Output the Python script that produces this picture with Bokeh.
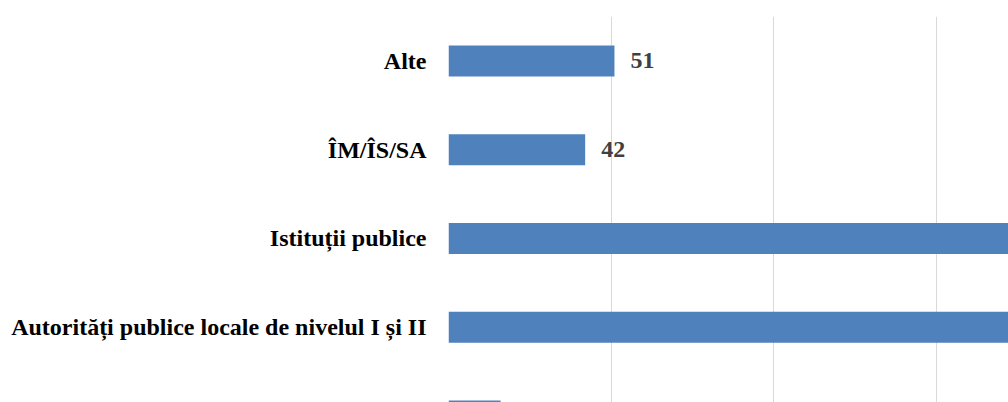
from bokeh.plotting import figure
from bokeh.models import ColumnDataSource, FixedTicker, Range1d, LabelSet
from bokeh.embed import file_html
from bokeh.resources import INLINE

categories = ["", "Autorități publice locale de nivelul I și II", "Istituții publice", "ÎM/ÎS/SA", "Alte"]
values = [16, 205, 190, 42, 51]
positions = [0, 1, 2, 3, 4]
grid_ticks = [0, 50, 100, 150]

X_MAX = 172.1
Y_MIN, Y_MAX = 0.152, 4.501

src = ColumnDataSource(dict(y=positions, v=values))

vis = [i for i in range(len(values)) if values[i] < X_MAX - 15 and positions[i] > Y_MIN + 0.3]
lab_src = ColumnDataSource(dict(x=[values[i] for i in vis], y=[positions[i] for i in vis],
                                t=[str(values[i]) for i in vis]))

p = figure(width=1008, height=402, output_backend="svg", toolbar_location=None,
           x_range=Range1d(0, X_MAX), y_range=Range1d(Y_MIN, Y_MAX),
           min_border_left=448, min_border_right=0, min_border_top=16, min_border_bottom=0)

p.hbar(y="y", right="v", left=0, height=0.35, source=src, color="#4F81BD", line_color=None)

labels = LabelSet(x="x", y="y", text="t", source=lab_src, x_offset=16, y_offset=0,
                  text_font="Liberation Serif", text_font_style="bold", text_font_size="24px",
                  text_color="#404040", text_baseline="middle", text_align="left")
p.add_layout(labels)

p.xaxis.visible = False
p.xgrid.ticker = FixedTicker(ticks=grid_ticks)
p.xgrid.grid_line_color = "#D9D9D9"
p.xgrid.grid_line_width = 1
p.ygrid.grid_line_color = None

p.yaxis.ticker = FixedTicker(ticks=positions[1:])
p.yaxis.major_label_overrides = {i: c for i, c in enumerate(categories)}
p.yaxis.axis_line_color = None
p.yaxis.major_tick_line_color = None
p.yaxis.minor_tick_line_color = None
p.yaxis.major_tick_out = 0
p.yaxis.major_label_standoff = 22
p.yaxis.major_label_text_font = "Liberation Serif"
p.yaxis.major_label_text_font_style = "bold"
p.yaxis.major_label_text_font_size = "24px"
p.yaxis.major_label_text_color = "black"
p.outline_line_color = None

open("out.html", "w").write(file_html(p, INLINE))
